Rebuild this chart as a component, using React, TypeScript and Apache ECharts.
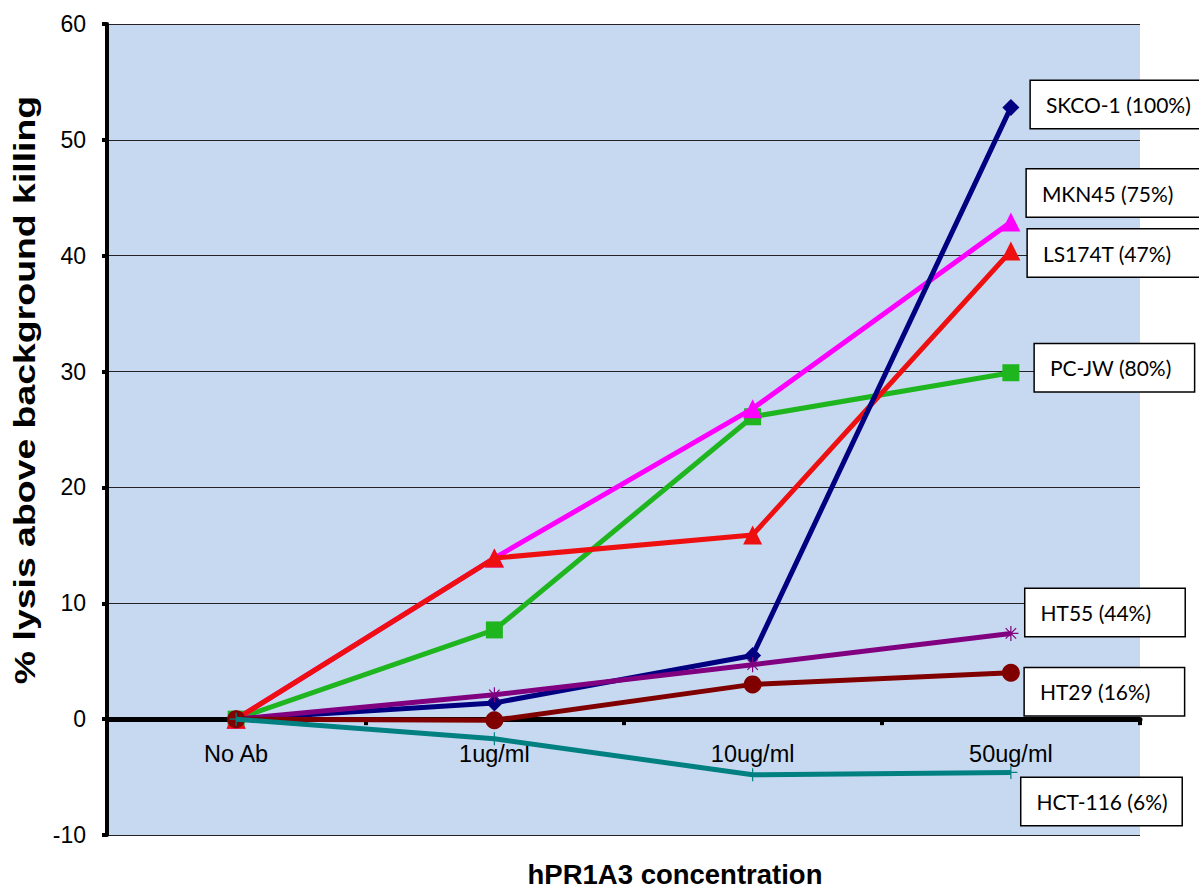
import React, { useEffect, useRef } from "react";
import * as echarts from "echarts";

const categories = ["No Ab", "1ug/ml", "10ug/ml", "50ug/ml"];
const yTicks = { min: -10, max: 60, interval: 10 };

const skco1 = [0, 1.4, 5.5, 52.8];
const mkn45 = [0, 13.9, 26.8, 42.9];
const ls174t = [0, 13.9, 15.9, 40.4];
const pcjw = [0, 7.7, 26.1, 29.9];
const ht55 = [0, 2.1, 4.7, 7.4];
const ht29 = [0, -0.1, 3.0, 4.0];
const hct116 = [0, -1.7, -4.8, -4.6];

const seriesNames = [
  "PC-JW (80%)",
  "MKN45 (75%)",
  "LS174T (47%)",
  "SKCO-1 (100%)",
  "HT55 (44%)",
  "HT29 (16%)",
  "HCT-116 (6%)",
];
const seriesData = [pcjw, mkn45, ls174t, skco1, ht55, ht29, hct116];

const xTitle = "hPR1A3 concentration";
const yTitle = "% lysis above background killing";

const ASTERISK = "path://M0,5L10,5M5,0L5,10M1.5,1.5L8.5,8.5M8.5,1.5L1.5,8.5";
const PLUS = "path://M0,5L10,5M5,0L5,10";

// style: color, symbol, size, label box left distance from point, vertical offset, box width
const styles = [
  { color: "#1FB51F", symbol: "rect", size: 17, dx: 24, dy: -5, w: 159, border: 0 },
  { color: "#FF00FF", symbol: "triangle", size: 19, dx: 16, dy: -29, w: 175, border: 0 },
  { color: "#EE1010", symbol: "triangle", size: 19, dx: 17, dy: 2, w: 175, border: 0 },
  { color: "#000080", symbol: "diamond", size: 17, dx: 20, dy: -3, w: 175, border: 0 },
  { color: "#800080", symbol: ASTERISK, size: 15, dx: 14, dy: -21, w: 159, border: 1.2 },
  { color: "#800000", symbol: "circle", size: 18, dx: 14, dy: 19, w: 159, border: 0 },
  { color: "#008080", symbol: PLUS, size: 13, dx: 10, dy: 29, w: 160, border: 1.2 },
];

export default function App() {
  const ref = useRef<HTMLDivElement>(null);
  useEffect(() => {
    if (!ref.current) return;
    const chart = echarts.init(ref.current, null, { renderer: "svg" });
    const series = seriesData.map((data, si) => {
      const st = styles[si];
      const name = seriesNames[si];
      return {
        type: "line",
        name,
        z: 2 + si,
        symbol: st.symbol,
        symbolSize: st.size,
        showAllSymbol: true,
        lineStyle: { color: st.color, width: 5 },
        itemStyle:
          st.border > 0
            ? { color: "transparent", borderColor: st.color, borderWidth: st.border }
            : { color: st.color },
        data: data.map((v, i) =>
          i === data.length - 1
            ? {
                value: v,
                label: {
                  show: true,
                  formatter: name,
                  position: "right",
                  distance: st.dx - st.size / 2,
                  offset: [0, st.dy],
                  color: "#000",
                  fontFamily: "Lato",
                  fontSize: 21,
                  backgroundColor: "#ffffff",
                  borderColor: "#000000",
                  borderWidth: 1.5,
                  padding: [0, 12, 0, 15],
                  width: st.w - 27,
                  height: 47,
                  lineHeight: 47,
                  align: "left",
                  verticalAlign: "middle",
                },
              }
            : v
        ),
      };
    });
    chart.setOption({
      animation: false,
      backgroundColor: "#ffffff",
      grid: {
        left: 107,
        right: 59,
        top: 24,
        bottom: 53,
        show: true,
        backgroundColor: "#C6D9F1",
        borderWidth: 0,
        outerBoundsMode: "none",
        containLabel: false,
      },
      graphic: [
        {
          type: "text",
          x: 675,
          y: 874,
          style: {
            text: xTitle,
            fontFamily: "Liberation Sans",
            fontWeight: "bold",
            fontSize: 27.5,
            fill: "#000",
            textAlign: "center",
            textVerticalAlign: "middle",
          },
        },
        {
          type: "text",
          x: 25,
          y: 390,
          rotation: Math.PI / 2,
          scaleX: 1.29,
          style: {
            text: yTitle,
            fontFamily: "Liberation Sans",
            fontWeight: "bold",
            fontSize: 29,
            fill: "#000",
            textAlign: "center",
            textVerticalAlign: "middle",
          },
        },
      ],
      xAxis: {
        type: "category",
        data: categories,
        boundaryGap: true,
        axisLine: { onZero: true, lineStyle: { color: "#000", width: 5 } },
        axisTick: { show: true, length: 6, lineStyle: { color: "#000", width: 4 } },
        axisLabel: {
          margin: -93,
          fontFamily: "Liberation Sans",
          fontSize: 23.5,
          color: "#000",
        },
        splitLine: { show: false },
      },
      yAxis: {
        type: "value",
        min: yTicks.min,
        max: yTicks.max,
        interval: yTicks.interval,
        axisLine: { show: true, lineStyle: { color: "#000", width: 4 } },
        axisTick: { show: true, length: 5, lineStyle: { color: "#000", width: 4 } },
        axisLabel: {
          margin: 21,
          fontFamily: "Liberation Sans",
          fontSize: 23,
          color: "#000",
        },
        splitLine: { show: true, lineStyle: { color: "#222", width: 1 } },
      },
      series,
    });
    return () => chart.dispose();
  }, []);
  return (
    <div
      ref={ref}
      style={{ position: "fixed", left: 0, top: 0, width: 1199, height: 888 }}
    />
  );
}
